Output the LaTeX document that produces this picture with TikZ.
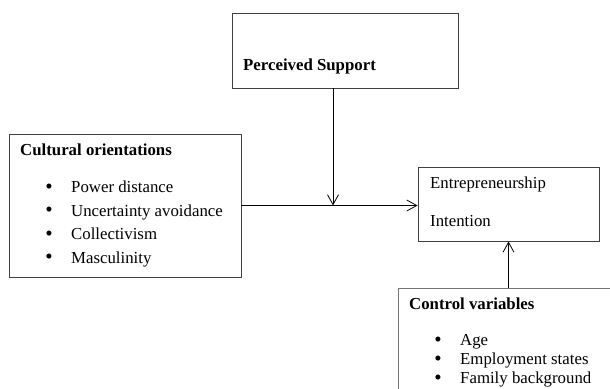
\documentclass[tikz,border=0pt]{standalone}
\usepackage{fontspec}
\setmainfont{Liberation Serif}
\usetikzlibrary{arrows.meta}
\begin{document}
\begin{tikzpicture}[x=1pt,y=-1pt,
  box/.style={draw=black!75,line width=0.9pt,rectangle,inner sep=0pt},
  txt/.style={anchor=base west,inner sep=0pt,font=\fontsize{16.8}{20}\selectfont},
  hd/.style={txt,font=\fontsize{16.8}{20}\selectfont\bfseries},
  dot/.style={anchor=base,inner sep=0pt,font=\fontsize{21}{24}\selectfont},
  arr/.style={-{Straight Barb[length=10pt,width=11pt]},line width=0.8pt}]
\useasboundingbox (0,0) rectangle (610,388);
\clip (0,0) rectangle (610,388);
% boxes
\node[box,minimum width=226pt,minimum height=75pt] (ps) at (345,50.5) {};
\node[box,minimum width=232pt,minimum height=143pt] (cult) at (125,205.5) {};
\node[box,minimum width=181pt,minimum height=74pt] (ent) at (508.5,204) {};
\node[box,draw=black!55,minimum width=250pt,minimum height=140pt] (ctrl) at (523,358) {};
% texts
\node[hd] (psT) at (243,70) {Perceived Support};
\node[hd] (cultT) at (20,155) {Cultural orientations};
\foreach \t [count=\i] in {Power distance,Uncertainty avoidance,Collectivism,Masculinity}{
  \node[dot] (cultB\i) at (49,{193+23.5*(\i-1)}) {\textbullet};
  \node[txt] (cult\i) at (71,{192.5+23.5*(\i-1)}) {\t};
}
\node[txt] (entA) at (430,188) {Entrepreneurship};
\node[txt] (entB) at (430,226) {Intention};
\node[hd] (ctrlT) at (409,309) {Control variables};
\foreach \t [count=\i] in {Age,Employment states,Family background}{
  \node[dot] (ctrlB\i) at (438,{346+19*(\i-1)}) {\textbullet};
  \node[txt] (ctrl\i) at (460,{345.5+19*(\i-1)}) {\t};
}
% arrows
\coordinate (meet) at (333,205.5);
\draw[line width=0.8pt] (cult.east) -- (meet);
\draw[arr] (meet) -- (ent.west |- meet);
\draw[arr] (ps.south -| meet) -- (meet);
\draw[arr] (ent.south |- ctrl.north) -- (ent.south);
\end{tikzpicture}
\end{document}
